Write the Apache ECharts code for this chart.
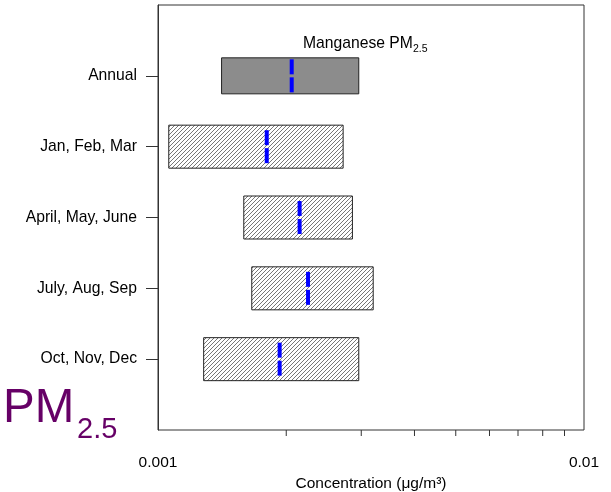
<!DOCTYPE html>
<html>
<head>
<meta charset="utf-8">
<script src="https://cdn.jsdelivr.net/npm/echarts@6/dist/echarts.min.js"></script>
<style>
  html, body { margin: 0; padding: 0; background: #fff; }
  #main { width: 611px; height: 492px; }
</style>
</head>
<body>
<div id="main"></div>
<script>
// seasons, top to bottom
const categories = ['Annual', 'Jan, Feb, Mar', 'April, May, June', 'July, Aug, Sep', 'Oct, Nov, Dec'];
// range of each box (ug/m3) and the median line
const lowValues = [0.00141, 0.00106, 0.00159, 0.00166, 0.00128];
const highValues = [0.00296, 0.00272, 0.00286, 0.00320, 0.00296];
const medianValues = [0.00206, 0.00180, 0.00215, 0.00225, 0.00193];
// log axis minor ticks
const minorTicks = [0.002, 0.003, 0.004, 0.005, 0.006, 0.007, 0.008, 0.009];

const FONT = 'Liberation Sans, Arial, sans-serif';

// hatch pattern //
function makeHatch() {
  const c = document.createElement('canvas');
  c.width = 4; c.height = 4;
  const ctx = c.getContext('2d');
  ctx.fillStyle = '#fff';
  ctx.fillRect(0, 0, 4, 4);
  ctx.fillStyle = '#777';
  for (let i = 0; i < 4; i++) ctx.fillRect(i, 3 - i, 1, 1);
  return c;
}
const hatch = { image: makeHatch(), repeat: 'repeat' };

const yData = [''].concat(categories, ['']);
const boxData = categories.map((c, i) => [i + 1, lowValues[i], highValues[i], medianValues[i]]);

const chart = echarts.init(document.getElementById('main'), null, { renderer: 'canvas' });

const option = {
  animation: false,
  backgroundColor: '#fff',
  grid: {
    left: 158, right: 27, top: 5, bottom: 62,
    outerBoundsMode: 'none',
    containLabel: false,
    show: true, borderColor: '#333', borderWidth: 1
  },
  xAxis: {
    type: 'log',
    logBase: 10,
    min: 0.001,
    max: 0.01,
    name: 'Concentration (\u03bcg/m\u00b3)',
    nameLocation: 'middle',
    nameGap: 40,
    nameTextStyle: { color: '#000', fontSize: 15.5, fontFamily: FONT },
    axisLine: { lineStyle: { color: '#333' } },
    axisTick: { length: 13, lineStyle: { color: '#333' } },
    splitLine: { show: false },
    axisLabel: {
      color: '#000', fontSize: 15.5, fontFamily: FONT, margin: 25,
      formatter: v => String(Number(v.toPrecision(3)))
    }
  },
  yAxis: {
    type: 'category',
    data: yData,
    inverse: true,
    boundaryGap: false,
    axisLine: { lineStyle: { color: '#333' } },
    axisTick: { length: 12, lineStyle: { color: '#333' }, interval: (i) => i > 0 && i < yData.length - 1 },
    axisLabel: {
      color: '#000', fontSize: 15.7, fontFamily: FONT, margin: 21,
      interval: (i) => i > 0 && i < yData.length - 1
    },
    splitLine: { show: false }
  },
  graphic: [
    { type: 'text', left: 303, top: 36, silent: true,
      style: { text: 'Manganese PM', fontSize: 15.7, fontFamily: FONT, fill: '#000' } },
    { type: 'text', left: 413, top: 44, silent: true,
      style: { text: '2.5', fontSize: 10.5, fontFamily: FONT, fill: '#000' } },
    { type: 'text', left: 3, top: 385, silent: true,
      style: { text: 'PM', fontSize: 47.5, fontFamily: FONT, fill: '#660066' } },
    { type: 'text', left: 77, top: 415, silent: true,
      style: { text: '2.5', fontSize: 29, fontFamily: FONT, fill: '#660066' } }
  ],
  series: [
    {
      type: 'custom',
      silent: true,
      data: boxData,
      encode: { x: [1, 2, 3], y: 0 },
      renderItem: function (params, api) {
        const row = api.value(0);
        const pLow = api.coord([api.value(1), row]);
        const pHigh = api.coord([api.value(2), row]);
        const pMed = api.coord([api.value(3), row]);
        const h = row === 1 ? 36 : 43;
        const cy = pLow[1];
        return {
          type: 'group',
          children: [
            {
              type: 'rect',
              shape: { x: pLow[0], y: cy - h / 2, width: pHigh[0] - pLow[0], height: h },
              style: { fill: row === 1 ? '#8c8c8c' : hatch, stroke: '#222', lineWidth: 1 }
            },
            {
              type: 'rect',
              shape: { x: pMed[0] - 2, y: cy - 16.5, width: 4, height: 15 },
              style: { fill: '#0000ff' }
            },
            {
              type: 'rect',
              shape: { x: pMed[0] - 2, y: cy + 1.5, width: 4, height: 15 },
              style: { fill: '#0000ff' }
            }
          ]
        };
      }
    },
    {
      type: 'custom',
      silent: true,
      clip: false,
      data: minorTicks.map(v => [v, yData.length - 1]),
      encode: { x: 0, y: 1 },
      renderItem: function (params, api) {
        const p = api.coord([api.value(0), api.value(1)]);
        return {
          type: 'line',
          shape: { x1: p[0], y1: p[1], x2: p[0], y2: p[1] + 6 },
          style: { stroke: '#333', lineWidth: 1 }
        };
      }
    }
  ]
};

chart.setOption(option);
</script>
</body>
</html>
